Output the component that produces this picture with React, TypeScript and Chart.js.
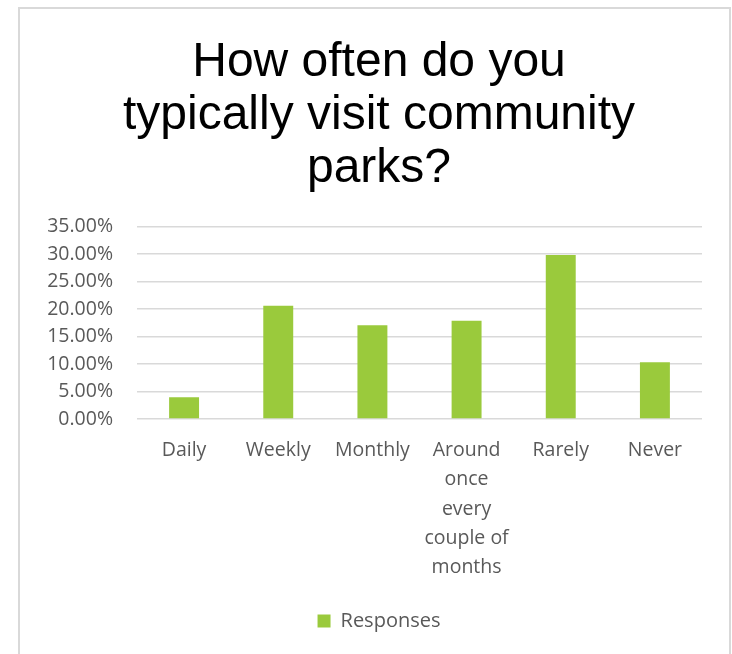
import React, { useEffect, useRef } from "react";
import { Chart, registerables } from "chart.js";

Chart.register(...registerables);

const titleLines = ["How often do you", "typically visit community", "parks?"];
const categories: (string | string[])[] = [
  "Daily",
  "Weekly",
  "Monthly",
  ["Around", "once", "every", "couple of", "months"],
  "Rarely",
  "Never",
];
const responses = [0.0395, 0.2062, 0.1705, 0.1789, 0.2985, 0.1032];
const seriesName = "Responses";
const yMin = 0;
const yMax = 0.35;
const yStep = 0.05;

const BAR_COLOR = "#9ACA3C";
const TEXT_GRAY = "#595959";
const GRID_GRAY = "#D9D9D9";
const FONT = "'Open Sans', 'Noto Sans', sans-serif";

export default function App() {
  const canvasRef = useRef<HTMLCanvasElement | null>(null);

  useEffect(() => {
    const canvas = canvasRef.current;
    if (!canvas) return;
    const chart = new Chart(canvas, {
      type: "bar",
      data: {
        labels: categories,
        datasets: [
          {
            label: seriesName,
            data: responses,
            backgroundColor: BAR_COLOR,
            borderWidth: 0,
            barPercentage: 0.318,
            categoryPercentage: 1,
            yAxisID: "y",
          },
        ],
      },
      options: {
        animation: false,
        responsive: false,
        maintainAspectRatio: false,
        layout: { padding: { left: 16, right: 7, top: 0, bottom: 13 } },
        plugins: {
          title: {
            display: true,
            text: titleLines,
            color: "#000000",
            font: { family: "'Liberation Sans', Arial, sans-serif", size: 48, weight: "normal", lineHeight: 1.1 },
            padding: { top: 27.5, bottom: 31.8 },
          },
          legend: {
            display: true,
            position: "bottom",
            labels: {
              boxWidth: 13,
              boxHeight: 13,
              color: TEXT_GRAY,
              font: { family: FONT, size: 20 },
              padding: 10,
            },
          },
          tooltip: { enabled: false },
        },
        scales: {
          x: {
            grid: { display: false },
            border: { display: false },
            ticks: {
              color: TEXT_GRAY,
              font: { family: FONT, size: 19.5, lineHeight: 1.5 },
              padding: 9,
              maxRotation: 0,
              minRotation: 0,
              autoSkip: false,
            },
            afterFit: (s: any) => {
              s.height = 182;
            },
          },
          y: {
            min: yMin,
            max: yMax,
            grid: { color: GRID_GRAY, lineWidth: 1.6, drawTicks: false },
            border: { display: false },
            ticks: {
              stepSize: yStep,
              color: TEXT_GRAY,
              font: { family: FONT, size: 19.5 },
              padding: 24,
              callback: (v: any) => (Number(v) * 100).toFixed(2) + "%",
            },
            afterFit: (s: any) => {
              s.width = 101;
            },
          },
          yRight: {
            position: "right",
            display: true,
            grid: { display: false },
            border: { display: false },
            ticks: { display: false },
            afterFit: (s: any) => {
              s.width = 20;
            },
          },
        },
      },
    });
    return () => chart.destroy();
  }, []);

  return (
    <div
      style={{
        position: "absolute",
        left: 18,
        top: 7,
        width: 713,
        height: 647,
        boxSizing: "border-box",
        border: "2px solid #D9D9D9",
        borderBottom: "none",
        background: "#FFFFFF",
      }}
    >
      <canvas ref={canvasRef} width={709} height={645} style={{ display: "block", width: 709, height: 645 }} />
    </div>
  );
}
